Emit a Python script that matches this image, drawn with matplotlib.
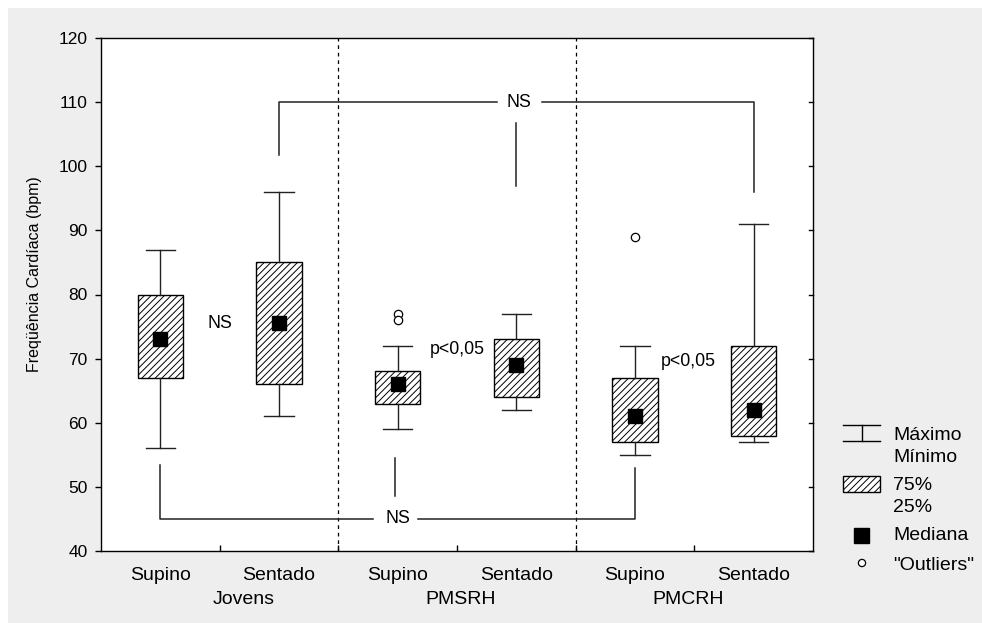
import matplotlib
matplotlib.use("Agg")
import matplotlib.pyplot as plt
from matplotlib.patches import Rectangle, Circle
from matplotlib.lines import Line2D
import numpy as np

# ---- data -------------------------------------------------------------
positions_lbl = ["Supino", "Sentado", "Supino", "Sentado", "Supino", "Sentado"]
groups = ["Jovens", "PMSRH", "PMCRH"]
q1 = [67, 66, 63, 64, 57, 58]
q3 = [80, 85, 68, 73, 67, 72]
medians = [73, 75.5, 66, 69, 61, 62]
mins = [56, 61, 59, 62, 55, 57]
maxs = [87, 96, 72, 77, 72, 91]
outliers = [[], [], [77, 76], [], [89], []]

yticks = list(range(40, 121, 10))

# ---- style ------------------------------------------------------------
plt.rcParams["font.family"] = ["Liberation Sans", "DejaVu Sans"]
plt.rcParams["hatch.linewidth"] = 0.7
FS_TICK = 12.5
FS_CAT = 14
FS_NOTE = 12.8
FS_LEG = 14

W, H = 982, 623
fig = plt.figure(figsize=(W / 100, H / 100), dpi=100, facecolor="white")
fig.patches.append(Rectangle((8 / W, -0.1), 2, 1.1 - 8 / H, transform=fig.transFigure,
                             facecolor="#eeeeee", edgecolor="none", zorder=-10))

L, R, T, B = 101, 813, 38, 551
ax = fig.add_axes([L / W, 1 - B / H, (R - L) / W, (B - T) / H])
ax.set_facecolor("white")

n = len(q1)
xs = np.arange(n)
stats = []
for i in range(n):
    stats.append(dict(med=medians[i], q1=q1[i], q3=q3[i],
                      whislo=mins[i], whishi=maxs[i], fliers=outliers[i]))

ax.bxp(stats, positions=xs, widths=0.38, capwidths=0.245, patch_artist=True,
       showfliers=True,
       boxprops=dict(facecolor="white", edgecolor="black", linewidth=1.0, hatch="/////"),
       whiskerprops=dict(color="#222222", linewidth=1.0),
       capprops=dict(color="#222222", linewidth=1.0),
       medianprops=dict(linewidth=0),
       flierprops=dict(marker="o", markersize=6, markerfacecolor="white",
                       markeredgecolor="black", markeredgewidth=0.9))
ax.plot(xs, medians, linestyle="none", marker="s", markersize=10,
        color="black", zorder=5)

# group separators
for xb in (1.5, 3.5):
    ax.axvline(xb, color="black", linewidth=0.9, linestyle=(0, (3, 3)), zorder=1)

ax.set_xlim(-0.5, n - 0.5)
ax.set_ylim(40, 120)
ax.set_yticks(yticks)
ax.set_xticks([0.5, 1.5, 2.5, 3.5, 4.5])
ax.set_xticklabels([])
ax.tick_params(axis="y", left=True, right=False, direction="out",
               length=4, width=1, pad=5.5, labelsize=FS_TICK)
ax.tick_params(axis="x", direction="in", length=4, width=1, top=False)
for s in ax.spines.values():
    s.set_linewidth(1.0)
    s.set_color("black")

# right-side inward ticks
for yv in yticks:
    ax.plot([1, 1 - 4 / (R - L)], [yv, yv], transform=ax.get_yaxis_transform(),
            color="black", linewidth=1, clip_on=False)

# category and group labels
xt = ax.get_xaxis_transform()
for i, lbl in enumerate(positions_lbl):
    ax.text(i, -(576 - B) / (B - T), lbl, transform=xt, ha="center", va="center",
            fontsize=FS_CAT)
group_x = [0.70, 2.53, 4.45]
for gx, g in zip(group_x, groups):
    ax.text(gx, -(599 - B) / (B - T), g, transform=xt, ha="center", va="center",
            fontsize=FS_CAT)

fig.text(35 / W, 1 - 274 / H, "Freqüência Cardíaca (bpm)", rotation=90,
         ha="center", va="center", fontsize=11.5)

# significance annotations
ax.text(0.5, 75.5, "NS", ha="center", va="center", fontsize=FS_NOTE)
ax.text(2.5, 71.5, "p<0,05", ha="center", va="center", fontsize=FS_NOTE)
ax.text(4.45, 69.5, "p<0,05", ha="center", va="center", fontsize=FS_NOTE)

lc = "#222222"
# upper comparison bracket
ax.plot([1, 1, 2.84], [101.7, 110, 110], color=lc, lw=1.1)
ax.plot([3.22, 5, 5], [110, 110, 96], color=lc, lw=1.1)
ax.plot([3, 3], [106.8, 96.9], color=lc, lw=1.1)
ax.text(3.02, 110, "NS", ha="center", va="center", fontsize=FS_NOTE)
# lower comparison bracket
ax.plot([0, 0, 1.79], [53.4, 45, 45], color=lc, lw=1.1)
ax.plot([2.17, 4, 4], [45, 45, 52.9], color=lc, lw=1.1)
ax.plot([1.98, 1.98], [54.5, 48.5], color=lc, lw=1.1)
ax.text(2.0, 45, "NS", ha="center", va="center", fontsize=FS_NOTE)

# ---- legend (drawn in figure pixel space) -----------------------------
lax = fig.add_axes([0, 0, 1, 1])
lax.set_xlim(0, W)
lax.set_ylim(H, 0)
lax.axis("off")
lax.patch.set_alpha(0)
for seg in ([(843, 880), (425, 425)], [(843, 880), (441, 441)], [(862, 862), (425, 441)]):
    lax.add_line(Line2D(seg[0], seg[1], color="black", lw=1))
lax.add_patch(Rectangle((843, 476), 37, 16, facecolor="white", edgecolor="black",
                        lw=1, hatch="/////"))
lax.add_patch(Rectangle((854.5, 528), 15, 15, facecolor="black", edgecolor="black"))
lax.add_patch(Circle((862, 563), 3.6, facecolor="white", edgecolor="black", lw=0.9))
for ty, txt in [(435, "Máximo"), (457, "Mínimo"), (486, "75%"), (508, "25%"),
                (536, "Mediana"), (565, '"Outliers"')]:
    lax.text(893, ty, txt, ha="left", va="center", fontsize=FS_LEG)

fig.savefig("out.png", dpi=100, facecolor="white")
